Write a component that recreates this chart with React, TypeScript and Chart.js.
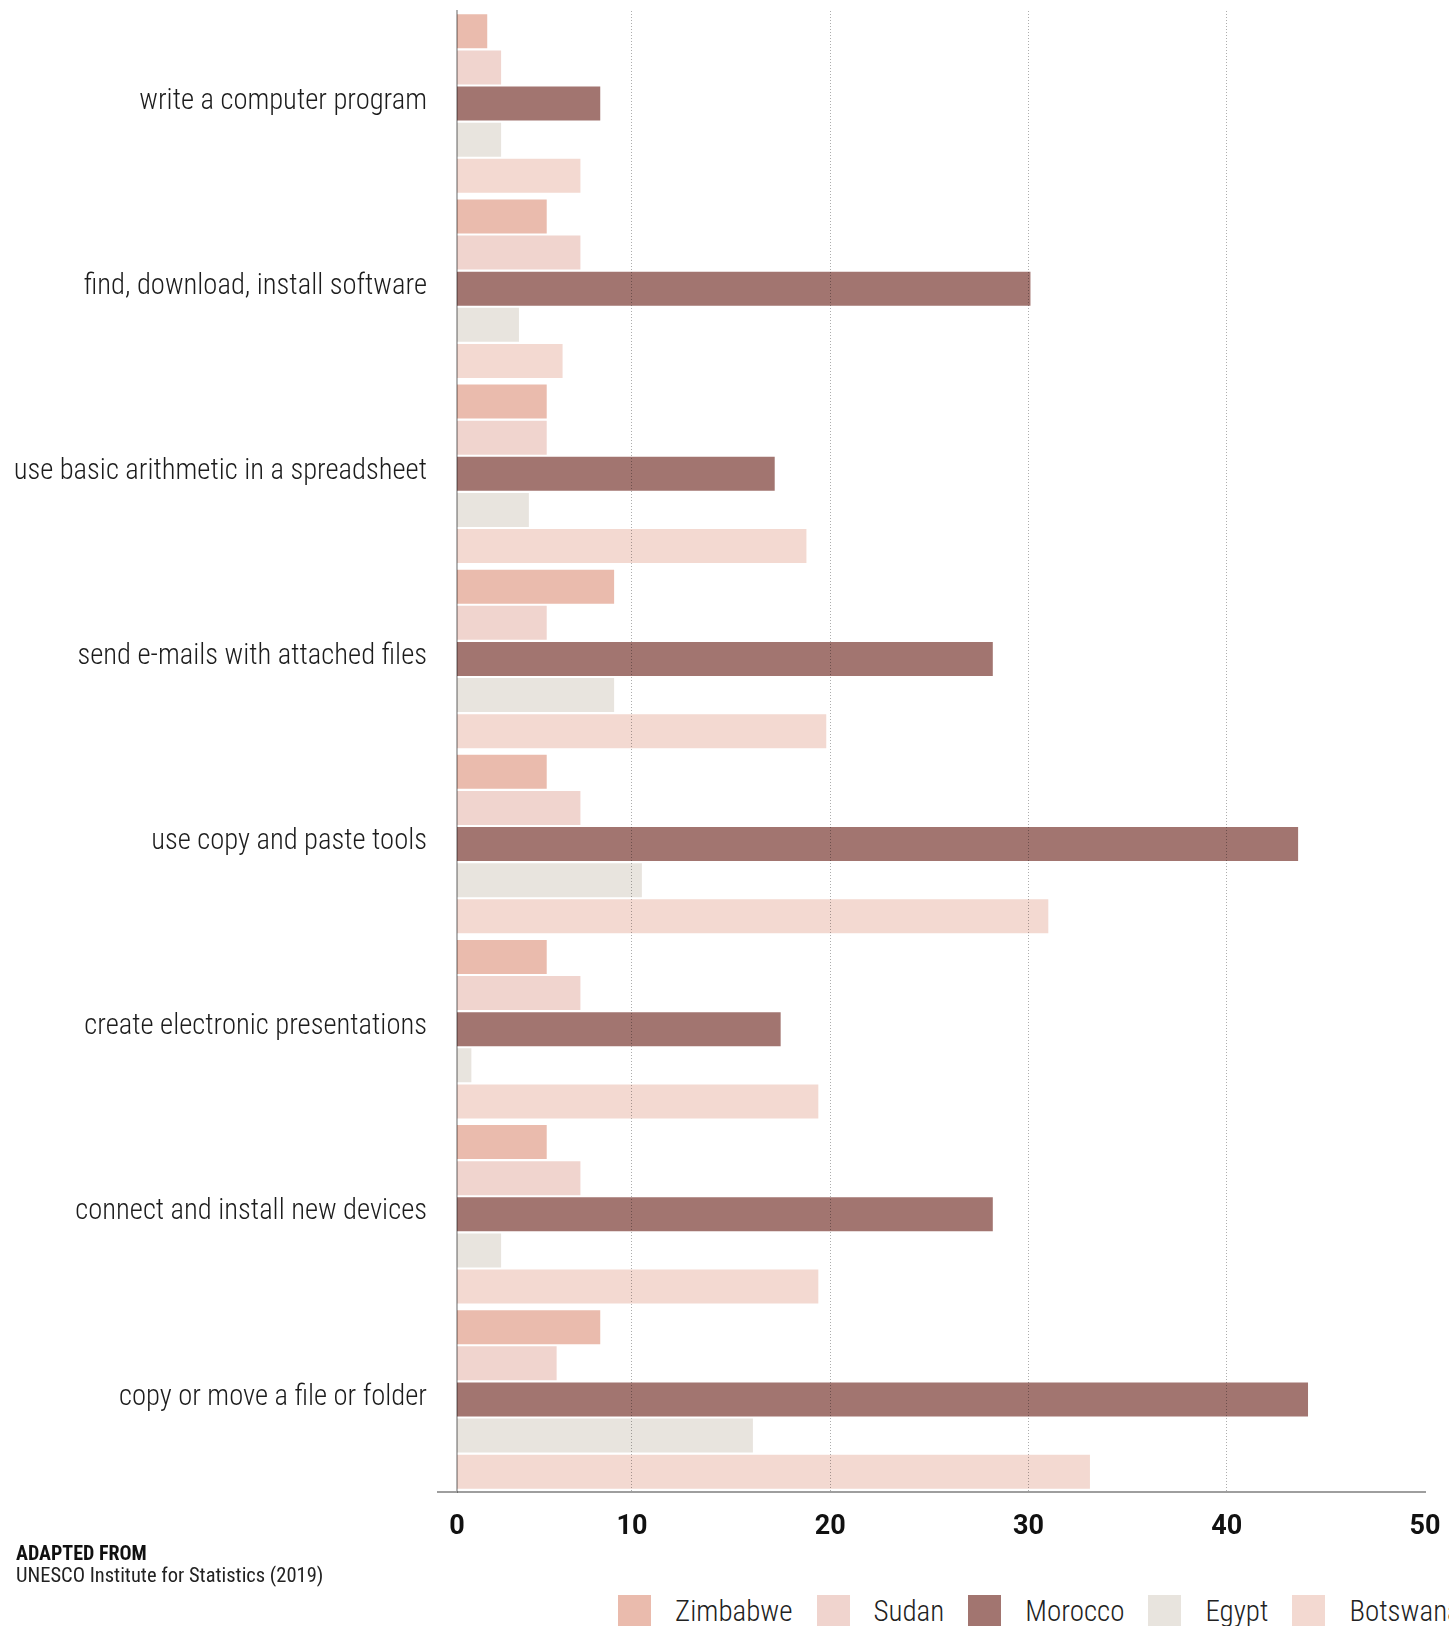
import React, { useEffect, useRef } from "react";
import { Chart, registerables } from "chart.js";

Chart.register(...registerables);

const categories = [
  "write a computer program",
  "find, download, install software",
  "use basic arithmetic in a spreadsheet",
  "send e-mails with attached files",
  "use copy and paste tools",
  "create electronic presentations",
  "connect and install new devices",
  "copy or move a file or folder",
];

const countries = ["Zimbabwe", "Sudan", "Morocco", "Egypt", "Botswana"];
const colors = ["#EABBAD", "#F0D4CE", "#A27570", "#E8E4DE", "#F3D9D1"];

const zimbabwe = [2.7, 5.7, 5.7, 9.1, 5.7, 5.7, 5.7, 8.4];
const sudan = [3.4, 7.4, 5.7, 5.7, 7.4, 7.4, 7.4, 6.2];
const morocco = [8.4, 30.1, 17.2, 28.2, 43.6, 17.5, 28.2, 44.1];
const egypt = [3.4, 4.3, 4.8, 9.1, 10.5, 1.9, 3.4, 16.1];
const botswana = [7.4, 6.5, 18.8, 19.8, 31.0, 19.4, 19.4, 33.1];

const seriesValues = [zimbabwe, sudan, morocco, egypt, botswana];

const xTickMax = 50;
const xVisibleMin = 1.175;

const condensed = '"Roboto Condensed", Roboto, sans-serif';

export default function App() {
  const canvasRef = useRef<HTMLCanvasElement | null>(null);

  useEffect(() => {
    const canvas = canvasRef.current;
    if (!canvas) return;
    const axisExtension = {
      id: "axisExtension",
      afterDraw(chart: any) {
        const { ctx, chartArea } = chart;
        ctx.save();
        ctx.strokeStyle = "#9e9e9e";
        ctx.lineWidth = 2;
        ctx.beginPath();
        ctx.moveTo(chartArea.left - 20, chartArea.bottom);
        ctx.lineTo(chartArea.left, chartArea.bottom);
        ctx.stroke();
        ctx.restore();
      },
    };
    const chart = new Chart(canvas, {
      type: "bar",
      data: {
        labels: categories,
        datasets: countries.map((name, i) => ({
          label: name,
          data: seriesValues[i],
          backgroundColor: colors[i],
          borderWidth: 0,
          categoryPercentage: 0.976,
          barPercentage: 0.94,
        })),
      },
      options: {
        indexAxis: "y",
        responsive: false,
        animation: false,
        devicePixelRatio: 1,
        layout: { padding: { top: 11, right: 24, bottom: 0, left: 0 } },
        plugins: {
          legend: { display: false },
          tooltip: { enabled: false },
        },
        scales: {
          x: {
            type: "linear",
            min: xVisibleMin,
            max: xTickMax,
            afterFit: (s: any) => {
              s.height = 58;
              s.paddingLeft = 0;
              s.paddingRight = 0;
            },
            ticks: {
              stepSize: 10,
              padding: 19,
              color: "#111",
              font: { family: "Roboto, sans-serif", size: 27, weight: "bold" },
              callback: (v: any, i: number) => (i === 0 ? "0" : String(v)),
            },
            grid: {
              z: 1,
              drawTicks: false,
              lineWidth: 1,
              color: (ctx: any) =>
                ctx.index === 0 || (ctx.tick && ctx.tick.value === xTickMax)
                  ? "rgba(0,0,0,0)"
                  : "rgba(0,0,0,0.32)",
            },
            border: { display: true, color: "#9e9e9e", width: 2, dash: [1, 2], z: 1 },
          },
          y: {
            type: "category",
            afterFit: (s: any) => {
              s.width = 457;
              s.paddingTop = 0;
              s.paddingBottom = 0;
            },
            grid: { display: false, drawTicks: false },
            border: { display: true, color: "rgba(0,0,0,0.3)", width: 2, z: 1 },
            ticks: {
              padding: 30,
              labelOffset: -2,
              color: "#1c1c1c",
              font: { family: condensed, size: 28.6, weight: "300" },
            },
          },
        },
      },
      plugins: [axisExtension],
    } as any);
    return () => chart.destroy();
  }, []);

  return (
    <div
      style={{
        position: "fixed",
        left: 0,
        top: 0,
        width: 1449,
        height: 1626,
        overflow: "hidden",
        background: "#fff",
        fontFamily: condensed,
        color: "#222",
      }}
    >
      <canvas
        ref={canvasRef}
        width={1449}
        height={1550}
        style={{ position: "absolute", left: 0, top: 0, width: 1449, height: 1550, display: "block" }}
      />
      <div
        style={{
          position: "absolute",
          left: 16,
          top: 1543,
          fontSize: 20,
          lineHeight: "20px",
          fontWeight: 700,
          color: "#111",
        }}
      >
        ADAPTED FROM
      </div>
      <div
        style={{
          position: "absolute",
          left: 16,
          top: 1565,
          fontSize: 20.5,
          lineHeight: "20px",
          fontWeight: 400,
          color: "#222",
        }}
      >
        UNESCO Institute for Statistics (2019)
      </div>
      <div
        style={{
          position: "absolute",
          left: 618,
          top: 1595,
          display: "flex",
          alignItems: "center",
          whiteSpace: "nowrap",
          height: 33,
        }}
      >
        {countries.map((name, i) => (
          <div key={name} style={{ display: "flex", alignItems: "center", marginRight: 24 }}>
            <span
              style={{ display: "inline-block", width: 33, height: 33, background: colors[i], marginRight: 24 }}
            />
            <span style={{ fontSize: 29, fontWeight: 300, lineHeight: "33px", color: "#222" }}>{name}</span>
          </div>
        ))}
      </div>
    </div>
  );
}
